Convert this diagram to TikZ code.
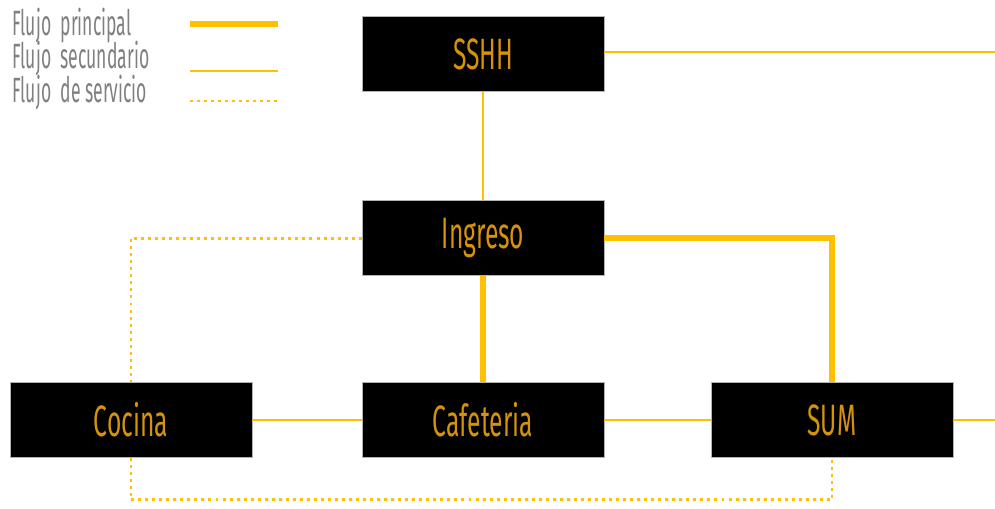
\documentclass[tikz,border=0pt]{standalone}
\usepackage{fontspec}
\newfontfamily\narrowfont[FakeStretch=0.56]{Fira Sans}
\newfontfamily\legendfont[FakeStretch=0.5]{Fira Sans}
\definecolor{flujo}{RGB}{255,192,0}
\definecolor{rotulo}{RGB}{214,146,8}
\definecolor{leyenda}{RGB}{128,128,128}
\begin{document}
\begin{tikzpicture}[
    x=0.02cm, y=-0.02cm,
    % Styles
    area/.style={
      rectangle,
      draw=gray!60,
      fill=black,
      text=rotulo,
      minimum width=4.84cm,
      minimum height=1.5cm,
      font=\narrowfont\fontsize{25}{28}\selectfont,
    },
    principal/.style={draw=flujo, line width=3.4pt},
    secundario/.style={draw=flujo, line width=1.1pt},
    servicio/.style={draw=flujo, line width=1.7pt, dash pattern=on 1.7pt off 2.3pt},
    rotulo/.style={text=leyenda, anchor=base west, inner sep=0pt,
      font=\legendfont\fontsize{20}{22}\selectfont},
  ]
  \useasboundingbox (0,0) rectangle (995,508);
  % legend
  \node[rotulo] (lp) at (12,35) {Flujo\ \ principal};
  \node[rotulo] (ls) at (12,68) {Flujo\ \ secundario};
  \node[rotulo] (lv) at (12,102) {Flujo\ \ de servicio};
  \coordinate (lpa) at (190,24);  \coordinate (lpb) at (278,24);
  \coordinate (lsa) at (190,71);  \coordinate (lsb) at (278,71);
  \coordinate (lva) at (190,101); \coordinate (lvb) at (278,101);
  \draw[principal] (lpa) -- (lpb);
  \draw[secundario] (lsa) -- (lsb);
  \draw[servicio] (lva) -- (lvb);
  % areas
  \node[area] (sshh) at (483,54) {SSHH};
  \node[area] (ing) at (483,238) {Ingreso};
  \node[area] (coc) at (131,420) {Cocina};
  \node[area] (caf) at (483,420) {Cafeteria};
  \node[area] (sum) at (832,420) {SUM};
  \coordinate (borde) at (995,52);
  % connections
  \draw[secundario] (sshh.east |- borde) -- (borde);
  \draw[secundario] (sshh.south) -- (ing.north);
  \draw[principal] (ing.east) -| (sum.north);
  \draw[principal] (ing.south) -- (caf.north);
  \draw[servicio] (ing.west) -| (coc.north);
  \draw[servicio] (coc.south) -- ++(0,42) -| (sum.south);
  \draw[secundario] (coc.east) -- (caf.west);
  \draw[secundario] (caf.east) -- (sum.west);
  \draw[secundario] (sum.east) -- (sum.east -| borde);
\end{tikzpicture}
\end{document}
